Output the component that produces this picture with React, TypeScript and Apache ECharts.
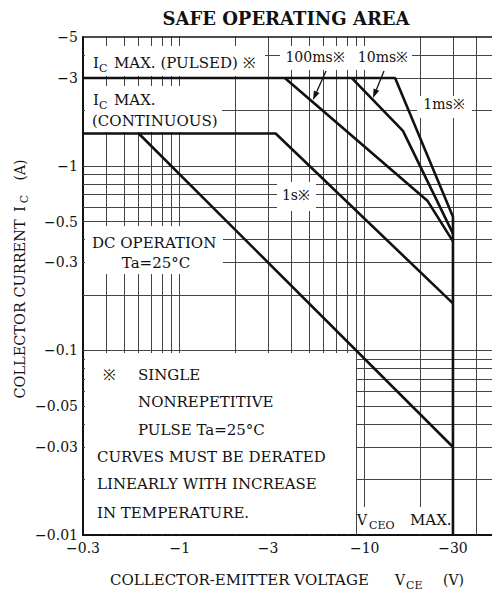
import React, { useEffect, useRef } from 'react';
import * as echarts from 'echarts';

// ---- data (magnitudes; axis labels carry the minus sign) ----
const xTickLabels = [0.3, 1, 3, 10, 30];
const yTickLabels = [0.01, 0.03, 0.05, 0.1, 0.3, 0.5, 1, 3, 5];
const xGridValues = [0.4, 0.5, 0.6, 0.7, 0.8, 0.9, 1, 2, 3, 4, 5, 6, 7, 8, 9, 10, 20, 30, 40];
const yGridValues = [
  0.02, 0.03, 0.04, 0.05, 0.06, 0.07, 0.08, 0.09,
  0.1, 0.2, 0.3, 0.4, 0.5, 0.6, 0.7, 0.8, 0.9,
  1, 2, 3, 4, 5,
];

// I_C max (pulsed) -> 1ms limit -> V_CEO max
const pulsed1ms = [[0.3, 3], [14.6, 3], [30, 0.53], [30, 0.01]];
// I_C max (continuous) -> 1s limit
const continuous1s = [[0.3, 1.5], [3.3, 1.5], [30, 0.18]];
const dcOperation = [[0.6, 1.5], [30, 0.03]];
const pulse100ms = [[3.7, 3], [21.9, 0.645], [30, 0.39]];
const pulse10ms = [[8.5, 3], [16.1, 1.55], [30, 0.43]];

const FONT = '"DejaVu Serif", "Liberation Serif", serif';
const INK = '#111111';

function fmt(v: number) {
  return '\u2212' + String(Number(Number(v).toPrecision(3)));
}

function T(text: string, x: number, y: number, size = 15, align = 'left', extra: any = {}) {
  return {
    type: 'text',
    x,
    y,
    z: 10,
    silent: true,
    style: {
      text,
      fontSize: size,
      fontFamily: FONT,
      fill: INK,
      textAlign: align,
      align,
      textVerticalAlign: 'middle',
      verticalAlign: 'middle',
      ...extra,
    },
  };
}

function whiteBox(x: number, y: number, w: number, h: number) {
  return { type: 'rect', z: 2, silent: true, shape: { x, y, width: w, height: h }, style: { fill: '#ffffff' } };
}

function arrow(x1: number, y1: number, x2: number, y2: number) {
  const dx = x2 - x1;
  const dy = y2 - y1;
  const len = Math.sqrt(dx * dx + dy * dy);
  const ux = dx / len;
  const uy = dy / len;
  const px = -uy;
  const py = ux;
  const bx = x2 - ux * 9;
  const by = y2 - uy * 9;
  return [
    { type: 'line', z: 10, silent: true, shape: { x1, y1, x2: bx, y2: by }, style: { stroke: INK, lineWidth: 1.3 } },
    {
      type: 'polygon',
      z: 10,
      silent: true,
      shape: { points: [[x2, y2], [bx + px * 3, by + py * 3], [bx - px * 3, by - py * 3]] },
      style: { fill: INK },
    },
  ];
}

function curve(name: string, data: number[][]) {
  return {
    name,
    type: 'line',
    data,
    z: 3,
    symbol: 'none',
    showSymbol: false,
    silent: true,
    clip: false,
    lineStyle: { color: '#111', width: 2.6 },
    emphasis: { disabled: true },
  };
}

export default function App() {
  const ref = useRef<HTMLDivElement>(null);
  useEffect(() => {
    if (!ref.current) return;
    const chart = echarts.init(ref.current, null, { renderer: 'svg' });
    const gridLines: any[] = [
      ...xGridValues.map((v) => ({ xAxis: v })),
      ...yGridValues.map((v) => (v === 5 ? { yAxis: v, lineStyle: { width: 1.6, color: '#111' } } : { yAxis: v })),
    ];
    const graphic: any[] = [
      // white label boxes hiding the grid
      whiteBox(85, 46, 180, 30),
      whiteBox(85, 86, 137, 46),
      whiteBox(280, 46, 132, 24),
      whiteBox(417, 96, 55, 22),
      whiteBox(277, 182, 39, 29),
      whiteBox(85, 226, 138, 48),
      whiteBox(85, 353, 271, 181),
      whiteBox(358, 507, 92, 27),
      // title
      T('SAFE OPERATING AREA', 286, 18, 18, 'center', { fontWeight: 'bold' }),
      // I_C max pulsed
      T('I', 93, 63, 15),
      T('C', 99, 68, 11),
      T('MAX. (PULSED) \u203B', 114, 63, 15),
      // I_C max continuous
      T('I', 93, 100, 15),
      T('C', 99, 105, 11),
      T('MAX.', 114, 100, 15),
      T('(CONTINUOUS)', 92, 121, 15),
      // pulse labels
      T('100ms\u203B', 315, 57, 14, 'center'),
      T('10ms\u203B', 383, 57, 14, 'center'),
      T('1ms\u203B', 444, 104, 14, 'center'),
      T('1s\u203B', 296, 195, 14, 'center'),
      ...arrow(326, 71, 313, 100),
      ...arrow(384, 71, 373, 98),
      // DC operation
      T('DC OPERATION', 92, 243, 15),
      T('Ta=25\u00B0C', 156, 263, 15, 'center'),
      // notes
      T('\u203B', 103, 375, 15),
      T('SINGLE', 138, 375, 15),
      T('NONREPETITIVE', 138, 402, 15),
      T('PULSE Ta=25\u00B0C', 138, 430, 15),
      T('CURVES MUST BE DERATED', 97, 457, 15),
      T('LINEARLY WITH INCREASE', 97, 484, 15),
      T('IN TEMPERATURE.', 97, 513, 15),
      // V_CEO max
      T('V', 357, 520, 14),
      T('CEO', 369, 525, 11),
      T('MAX.', 410, 520, 15),
      // x axis name
      T('COLLECTOR-EMITTER VOLTAGE', 110, 580, 15),
      T('V', 395, 580, 14),
      T('CE', 406, 585, 11),
      T('(V)', 443, 580, 14),
      // y axis name (rotated)
      { ...T('COLLECTOR CURRENT', 20, 309, 14.5, 'center'), rotation: Math.PI / 2 },
      { ...T('I', 20, 209, 14, 'center'), rotation: Math.PI / 2 },
      { ...T('C', 24, 199, 11, 'center'), rotation: Math.PI / 2 },
      { ...T('(A)', 20, 170, 14, 'center'), rotation: Math.PI / 2 },
    ];
    chart.setOption({
      animation: false,
      backgroundColor: '#ffffff',
      grid: { left: 83, right: -2, top: 37, bottom: 56, containLabel: false, outerBoundsMode: 'none' },
      xAxis: {
        type: 'log',
        min: 0.3,
        max: 50,
        axisLine: { show: true, lineStyle: { color: '#111', width: 2 } },
        axisTick: { show: false, customValues: xTickLabels },
        splitLine: { show: false },
        minorSplitLine: { show: false },
        axisLabel: {
          customValues: xTickLabels,
          formatter: (v: number) => fmt(v),
          fontFamily: FONT,
          fontSize: 14,
          color: INK,
          margin: 6,
        },
      },
      yAxis: {
        type: 'log',
        min: 0.01,
        max: 5,
        axisLine: { show: true, lineStyle: { color: '#111', width: 2 } },
        axisTick: { show: false, customValues: yTickLabels },
        splitLine: { show: false },
        minorSplitLine: { show: false },
        axisLabel: {
          customValues: yTickLabels,
          formatter: (v: number) => fmt(v),
          fontFamily: FONT,
          fontSize: 14,
          color: INK,
          margin: 5,
        },
      },
      series: [
        {
          name: 'grid',
          type: 'line',
          data: [],
          z: 1,
          silent: true,
          markLine: {
            z: 1,
            silent: true,
            symbol: ['none', 'none'],
            animation: false,
            label: { show: false },
            emphasis: { disabled: true },
            lineStyle: { color: '#444', width: 1, type: 'solid' },
            data: gridLines,
          },
        },
        curve('IC MAX. (PULSED) / 1ms', pulsed1ms),
        curve('IC MAX. (CONTINUOUS) / 1s', continuous1s),
        curve('DC OPERATION', dcOperation),
        curve('100ms', pulse100ms),
        curve('10ms', pulse10ms),
      ],
      graphic,
    });
    return () => chart.dispose();
  }, []);
  return (
    <div
      ref={ref}
      style={{ position: 'fixed', left: 0, top: 0, width: 492, height: 591, background: '#fff' }}
    />
  );
}
